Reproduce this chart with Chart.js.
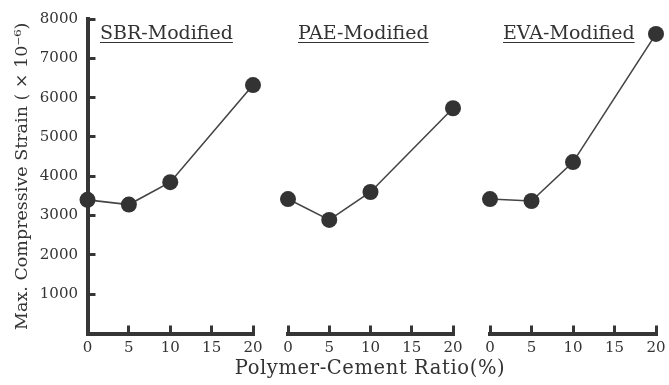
<!DOCTYPE html>
<html><head><meta charset="utf-8">
<script src="https://cdn.jsdelivr.net/npm/chart.js"></script>
<style>
html,body{margin:0;padding:0;background:#fff;}
#wrap{position:relative;width:669px;height:385px;overflow:hidden;background:#fff;}
.c{position:absolute;top:0;height:385px;}
.lbl{position:absolute;font-family:"DejaVu Serif";font-size:19px;line-height:19px;color:#333;text-decoration:underline;text-decoration-thickness:1px;text-underline-offset:3px;white-space:nowrap;}
#xt{position:absolute;left:170px;width:400px;top:358px;text-align:center;font-family:"DejaVu Serif";font-size:19.5px;line-height:20px;letter-spacing:0.6px;color:#333;white-space:nowrap;}
</style></head>
<body><div id="wrap">
<div class="c" style="left:0;width:270px"><canvas id="c1" width="270" height="385"></canvas></div>
<div class="c" style="left:270px;width:200px"><canvas id="c2" width="200" height="385"></canvas></div>
<div class="c" style="left:470px;width:199px"><canvas id="c3" width="199" height="385"></canvas></div>
<div class="lbl" id="t1" style="left:100px;top:23px"></div>
<div class="lbl" id="t2" style="left:298px;top:23px"></div>
<div class="lbl" id="t3" style="left:503px;top:23px"></div>
<div id="xt"></div>
</div>
<script>
const ratios = [0, 5, 10, 20];
const sbrStrain = [3400, 3280, 3850, 6320];
const paeStrain = [3420, 2890, 3600, 5730];
const evaStrain = [3420, 3370, 4360, 7620];
const xTicks = [0, 5, 10, 15, 20];
const yTicks = [0, 1000, 2000, 3000, 4000, 5000, 6000, 7000, 8000];
const panelTitles = ['SBR-Modified', 'PAE-Modified', 'EVA-Modified'];
const yTitle = 'Max. Compressive Strain ( \u00d7 10\u207b\u2076)';
const xTitle = 'Polymer-Cement Ratio(%)';

const ink = '#363636';
const font = 'DejaVu Serif';

function makeChart(id, values, pad, showY) {
  const ctx = document.getElementById(id);
  return new Chart(ctx, {
    type: 'line',
    data: {
      datasets: [{
        data: ratios.map((r, i) => ({x: r, y: values[i]})),
        borderColor: '#444',
        borderWidth: 1.6,
        pointRadius: 8,
        pointHoverRadius: 8,
        pointBackgroundColor: '#333',
        pointBorderWidth: 0,
        tension: 0,
        clip: false
      }]
    },
    options: {
      responsive: false,
      animation: false,
      events: [],
      layout: {padding: pad},
      plugins: {legend: {display: false}, tooltip: {enabled: false}, title: {display: false}},
      scales: {
        x: {
          type: 'linear',
          min: 0, max: 20,
          afterBuildTicks: s => { s.ticks = xTicks.map(v => ({value: v})); },
          afterFit: s => { s.height = 51.5; s.paddingLeft = 0; s.paddingRight = 0; },
          border: {display: true, color: ink, width: 4},
          grid: {display: true, drawOnChartArea: false, drawTicks: true, tickLength: -8, tickWidth: 3, tickColor: ink},
          ticks: {color: '#333', font: {family: font, size: 15}, padding: 14, maxRotation: 0, autoSkip: false}
        },
        y: {
          type: 'linear',
          min: 0, max: 8000,
          display: showY,
          afterBuildTicks: s => { s.ticks = yTicks.map(v => ({value: v})); },
          afterFit: s => { if (showY) { s.width = 87.5; } s.paddingTop = 0; s.paddingBottom = 0; },
          border: {display: true, color: ink, width: 4},
          grid: {display: true, drawOnChartArea: false, drawTicks: true, tickLength: -8, tickWidth: 3, tickColor: ink},
          ticks: {color: '#333', font: {family: font, size: 15}, padding: 17.5, callback: v => v === 0 ? '' : String(v)},
          title: {display: showY, text: yTitle, color: '#333', font: {family: font, size: 17.5}, padding: {top: 12, bottom: 0}}
        }
      }
    }
  });
}

makeChart('c1', sbrStrain, {left: 0, right: 17, top: 19, bottom: 0}, true);
makeChart('c2', paeStrain, {left: 18, right: 17, top: 19, bottom: 0}, false);
makeChart('c3', evaStrain, {left: 20, right: 13, top: 19, bottom: 0}, false);
document.getElementById('t1').textContent = panelTitles[0];
document.getElementById('t2').textContent = panelTitles[1];
document.getElementById('t3').textContent = panelTitles[2];
document.getElementById('xt').textContent = xTitle;
</script>
</body></html>
